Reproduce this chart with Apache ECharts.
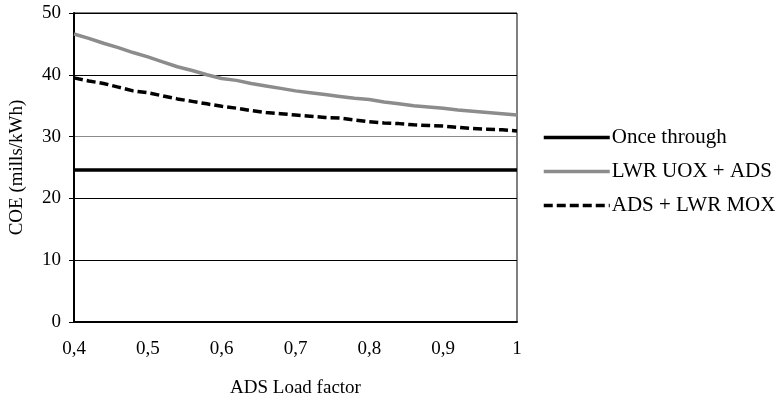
<!DOCTYPE html>
<html>
<head>
<meta charset="utf-8">
<script src="https://cdn.jsdelivr.net/npm/echarts@6/dist/echarts.min.js"></script>
<style>
  html, body { margin: 0; padding: 0; background: #fff; }
  #chart { width: 782px; height: 403px; }
</style>
</head>
<body>
<div id="chart"></div>
<script>
// ADS load factor (x) and cost of electricity (mills/kWh) for each fuel cycle
var loadFactor = [0.40, 0.42, 0.44, 0.46, 0.48, 0.50, 0.52, 0.54, 0.56, 0.58,
                  0.60, 0.62, 0.64, 0.66, 0.68, 0.70, 0.72, 0.74, 0.76, 0.78,
                  0.80, 0.82, 0.84, 0.86, 0.88, 0.90, 0.92, 0.94, 0.96, 0.98, 1.00];
var onceThrough = [24.6, 24.6, 24.6, 24.6, 24.6, 24.6, 24.6, 24.6, 24.6, 24.6,
                   24.6, 24.6, 24.6, 24.6, 24.6, 24.6, 24.6, 24.6, 24.6, 24.6,
                   24.6, 24.6, 24.6, 24.6, 24.6, 24.6, 24.6, 24.6, 24.6, 24.6, 24.6];
var lwrUoxAds = [46.6, 45.9, 45.1, 44.4, 43.6, 42.9, 42.1, 41.3, 40.7, 40.0,
                 39.4, 39.1, 38.6, 38.2, 37.8, 37.4, 37.1, 36.8, 36.5, 36.2,
                 36.0, 35.6, 35.3, 35.0, 34.8, 34.6, 34.3, 34.1, 33.9, 33.7, 33.5];
var adsLwrMox = [39.5, 39.0, 38.6, 38.0, 37.4, 37.1, 36.6, 36.1, 35.7, 35.3,
                 34.9, 34.6, 34.2, 33.9, 33.7, 33.5, 33.3, 33.1, 33.0, 32.7,
                 32.4, 32.2, 32.1, 31.9, 31.8, 31.7, 31.5, 31.3, 31.2, 31.1, 30.9];
var seriesNames = ['Once through', 'LWR UOX + ADS', 'ADS + LWR MOX'];
var yTicks = { min: 0, max: 50, step: 10 };
var xTicks = { min: 0.4, max: 1, step: 0.1 };

function pairs(ys) {
  return loadFactor.map(function (x, i) { return [x, ys[i]]; });
}

var serif = '"Liberation Serif", "DejaVu Serif", serif';
var chart = echarts.init(document.getElementById('chart'));

chart.setOption({
  animation: false,
  backgroundColor: '#ffffff',
  textStyle: { fontFamily: serif, color: '#000' },
  grid: {
    left: 73, right: 265, top: 13, bottom: 79,
    show: true, borderColor: '#000', borderWidth: 1, backgroundColor: 'transparent'
  },
  legend: {
    orient: 'vertical',
    left: 542, top: 127, padding: 0,
    itemWidth: 66, itemHeight: 22, itemGap: 13,
    itemStyle: { opacity: 0, borderWidth: 0 },
    lineStyle: { width: 3.5 },
    textStyle: { fontFamily: serif, fontSize: 21, color: '#000', padding: [0, 0, 0, -3] },
    data: seriesNames
  },
  xAxis: {
    type: 'value',
    min: xTicks.min, max: xTicks.max, interval: xTicks.step,
    name: 'ADS Load factor',
    nameLocation: 'middle', nameGap: 57,
    nameTextStyle: { fontFamily: serif, fontSize: 19, color: '#000' },
    axisLine: { show: true, lineStyle: { color: '#000', width: 2 } },
    axisTick: { show: false },
    splitLine: { show: false },
    axisLabel: {
      margin: 18, fontFamily: serif, fontSize: 19, color: '#000',
      formatter: function (v) {
        return Math.abs(v - 1) < 1e-9 ? '1' : v.toFixed(1).replace('.', ',');
      }
    }
  },
  yAxis: {
    type: 'value',
    min: yTicks.min, max: yTicks.max, interval: yTicks.step,
    name: 'COE (mills/kWh)',
    nameLocation: 'middle', nameGap: 47,
    nameTextStyle: { fontFamily: serif, fontSize: 19, color: '#000' },
    axisLine: { show: true, lineStyle: { color: '#000', width: 2 } },
    axisTick: { show: true, inside: false, length: 5, lineStyle: { color: '#000' } },
    axisLabel: { margin: 13, fontFamily: serif, fontSize: 19, color: '#000' },
    splitLine: {
      show: true,
      lineStyle: { color: ['#000', '#000', '#000', '#8a8a8a', '#000', '#000'], width: 1 }
    }
  },
  series: [
    {
      name: seriesNames[0], type: 'line', data: pairs(onceThrough),
      symbol: 'none', lineStyle: { color: '#000', width: 3.5 },
      itemStyle: { color: '#000' }
    },
    {
      name: seriesNames[1], type: 'line', data: pairs(lwrUoxAds),
      symbol: 'none', lineStyle: { color: '#8c8c8c', width: 3.5 },
      itemStyle: { color: '#8c8c8c' }
    },
    {
      name: seriesNames[2], type: 'line', data: pairs(adsLwrMox),
      symbol: 'none', lineStyle: { color: '#000', width: 3.5, type: [9, 4] },
      itemStyle: { color: '#000' }
    }
  ]
});
</script>
</body>
</html>
